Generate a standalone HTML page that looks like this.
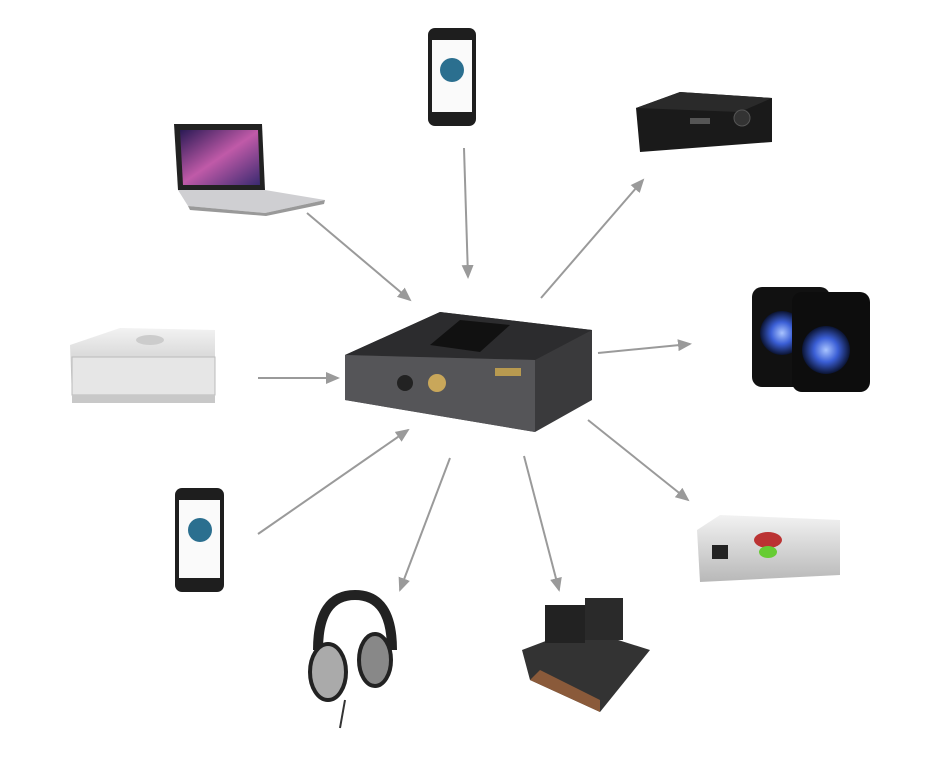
<!DOCTYPE html>
<html><head><meta charset="utf-8"><style>
html,body{margin:0;padding:0;background:#fff;width:950px;height:757px;overflow:hidden}
</style></head><body>
<svg width="950" height="757" viewBox="0 0 950 757" xmlns="http://www.w3.org/2000/svg">
<defs>
<marker id="a" markerWidth="14" markerHeight="12" refX="12" refY="6" orient="auto" markerUnits="userSpaceOnUse"><path d="M0,0 L14,6 L0,12 z" fill="#9a9a9a"/></marker>
<linearGradient id="sil" x1="0" y1="0" x2="0" y2="1"><stop offset="0" stop-color="#f2f2f2"/><stop offset="1" stop-color="#b8b8b8"/></linearGradient>
<radialGradient id="blue"><stop offset="0" stop-color="#a9c4ff"/><stop offset="0.5" stop-color="#3b5fd6"/><stop offset="1" stop-color="#0b1433"/></radialGradient>
<linearGradient id="scr" x1="0" y1="0" x2="1" y2="1"><stop offset="0" stop-color="#2a1a55"/><stop offset="0.5" stop-color="#c05aa8"/><stop offset="1" stop-color="#3a2a70"/></linearGradient>
</defs>
<g stroke="#9a9a9a" stroke-width="2" fill="none" marker-end="url(#a)">
<line x1="307" y1="213" x2="410" y2="300"/>
<line x1="464" y1="148" x2="468" y2="277"/>
<line x1="541" y1="298" x2="643" y2="180"/>
<line x1="598" y1="353" x2="690" y2="344"/>
<line x1="588" y1="420" x2="688" y2="500"/>
<line x1="524" y1="456" x2="559" y2="590"/>
<line x1="450" y1="458" x2="400" y2="590"/>
<line x1="258" y1="534" x2="408" y2="430"/>
<line x1="258" y1="378" x2="338" y2="378"/>
</g>
<!-- center device -->
<polygon points="345,355 440,312 592,330 592,400 535,432 345,400" fill="#3a3a3c"/>
<polygon points="345,355 440,312 592,330 535,360" fill="#2c2c2e"/>
<polygon points="345,355 535,360 535,432 345,400" fill="#555558"/>
<polygon points="430,345 460,320 510,325 480,352" fill="#111"/>
<circle cx="437" cy="383" r="9" fill="#c9a75a"/>
<circle cx="405" cy="383" r="8" fill="#222"/>
<rect x="495" y="368" width="26" height="8" fill="#b89a50"/>
<!-- laptop -->
<polygon points="174,124 262,124 265,190 178,190" fill="#222"/>
<polygon points="180,130 258,130 260,185 183,185" fill="url(#scr)"/>
<polygon points="178,190 265,190 325,200 265,213 188,206" fill="#cfcfd2"/>
<polygon points="188,206 265,213 325,200 324,204 266,216 190,210" fill="#999"/>
<!-- phones -->
<rect x="428" y="28" width="48" height="98" rx="7" fill="#1e1e1e"/>
<rect x="432" y="40" width="40" height="72" fill="#fafafa"/>
<circle cx="452" cy="70" r="12" fill="#2b6f8f"/>
<rect x="175" y="488" width="49" height="104" rx="7" fill="#1e1e1e"/>
<rect x="179" y="500" width="41" height="78" fill="#fafafa"/>
<circle cx="200" cy="530" r="12" fill="#2b6f8f"/>
<!-- receiver -->
<polygon points="636,108 680,92 772,98 772,142 640,152" fill="#1a1a1a"/>
<polygon points="636,108 740,112 772,98 680,92" fill="#2a2a2a"/>
<circle cx="742" cy="118" r="8" fill="#333" stroke="#555"/>
<rect x="690" y="118" width="20" height="6" fill="#555"/>
<!-- speakers -->
<rect x="752" y="287" width="78" height="100" rx="10" fill="#111"/>
<circle cx="782" cy="333" r="22" fill="url(#blue)"/>
<rect x="792" y="292" width="78" height="100" rx="10" fill="#0d0d0d"/>
<circle cx="826" cy="350" r="24" fill="url(#blue)"/>
<!-- chord -->
<polygon points="697,530 720,515 840,520 840,575 700,582" fill="url(#sil)"/>
<ellipse cx="768" cy="540" rx="14" ry="8" fill="#b33"/>
<ellipse cx="768" cy="552" rx="9" ry="6" fill="#6c3"/>
<rect x="712" y="545" width="16" height="14" fill="#222"/>
<!-- tube amp -->
<polygon points="522,650 580,628 650,650 600,712 530,680" fill="#333"/>
<polygon points="530,680 600,712 600,700 540,670" fill="#8a5a3a"/>
<rect x="545" y="605" width="40" height="38" fill="#222"/>
<rect x="585" y="598" width="38" height="42" fill="#2a2a2a"/>
<!-- headphones -->
<path d="M318,650 Q318,595 355,595 Q392,595 392,650" fill="none" stroke="#222" stroke-width="10"/>
<ellipse cx="328" cy="672" rx="18" ry="28" fill="#aaa" stroke="#222" stroke-width="4"/>
<ellipse cx="375" cy="660" rx="16" ry="26" fill="#888" stroke="#222" stroke-width="4"/>
<line x1="345" y1="700" x2="340" y2="728" stroke="#333" stroke-width="2"/>
<!-- CD player -->
<polygon points="70,345 120,328 215,330 215,392 72,397" fill="url(#sil)"/>
<rect x="72" y="357" width="143" height="38" fill="#e6e6e6" stroke="#bbb"/>
<rect x="72" y="395" width="143" height="8" fill="#c8c8c8"/>
<ellipse cx="150" cy="340" rx="14" ry="5" fill="#ccc"/>
</svg>
</body></html>
